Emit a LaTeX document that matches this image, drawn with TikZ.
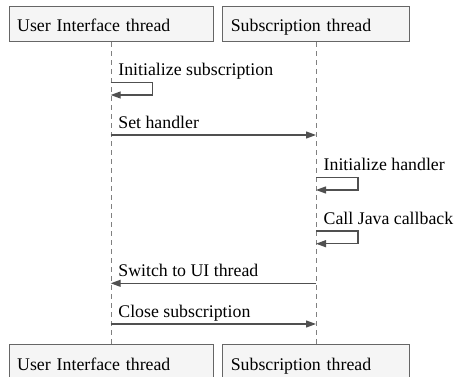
\documentclass[tikz,border=0pt]{standalone}
\usepackage{fontspec}
\setmainfont{Liberation Serif}
\usetikzlibrary{arrows.meta}
\definecolor{boxfill}{HTML}{F5F5F5}
\definecolor{boxline}{HTML}{666666}
\definecolor{msgline}{HTML}{505050}
\definecolor{lifegray}{HTML}{808080}
\tikzset{
	thread/.style={shape=rectangle, draw=boxline, fill=boxfill, line width=1pt,
		minimum height=35.6pt, inner xsep=8pt, inner ysep=0pt,
		text height=17pt, text depth=2pt,
		text width=#1, align=left, anchor=north west},
	lifeline/.style={draw=lifegray, line width=1pt, dash pattern=on 5pt off 4pt},
	msg/.style={draw=msgline, line width=1.2pt, -{Triangle[length=10pt, width=7pt]}},
	msgtext/.style={anchor=base west, inner sep=0pt}
}
\begin{document}
\begin{tikzpicture}[x=1pt, y=-1pt, font=\fontsize{17.8}{21}\selectfont]
	\useasboundingbox (0,0) rectangle (455,377);
	\clip (0,0) rectangle (455,377);
	% Thread boxes on top
	\node[thread=188pt] (UT) at (8.7, 5.7) {User Interface thread};
	\node[thread=171pt] (ST) at (222.3, 5.7) {Subscription thread};
	% Thread boxes at the bottom
	\node[thread=188pt] (UB) at (8.7, 344.3) {User Interface thread};
	\node[thread=171pt] (SB) at (222.3, 344.3) {Subscription thread};
	% Lifelines
	\draw[lifeline] (UT.south) -- (UB.north);
	\draw[lifeline] (ST.south) -- (SB.north);
	% Points on the lifelines
	\coordinate (U1a) at (110.7, 82.3);
	\coordinate (U1b) at (110.7, 95);
	\coordinate (U2) at (110.7, 135);
	\coordinate (S2) at (316, 135);
	\coordinate (S3a) at (316, 177.3);
	\coordinate (S3b) at (316, 190);
	\coordinate (S4a) at (316, 231);
	\coordinate (S4b) at (316, 243.7);
	\coordinate (U5) at (110.7, 283.3);
	\coordinate (S5) at (316, 283.3);
	\coordinate (U6) at (110.7, 324);
	\coordinate (S6) at (316, 324);
	% Messages
	\draw[msg] (U1a) -- ++(42,0) |- (U1b);
	\draw[msg] (U2) -- (S2);
	\draw[msg] (S3a) -- ++(42,0) |- (S3b);
	\draw[msg] (S4a) -- ++(42,0) |- (S4b);
	\draw[msg] (S5) -- (U5);
	\draw[msg] (U6) -- (S6);
	% Message labels
	\node[msgtext] (L1) at (118.2, 75.8) {Initialize subscription};
	\node[msgtext] (L2) at (118.2, 128.5) {Set handler};
	\node[msgtext] (L3) at (323.5, 170.8) {Initialize handler};
	\node[msgtext] (L4) at (323.5, 224.5) {Call Java callback};
	\node[msgtext] (L5) at (118.2, 276.8) {Switch to UI thread};
	\node[msgtext] (L6) at (118.2, 317.5) {Close subscription};
\end{tikzpicture}
\end{document}
